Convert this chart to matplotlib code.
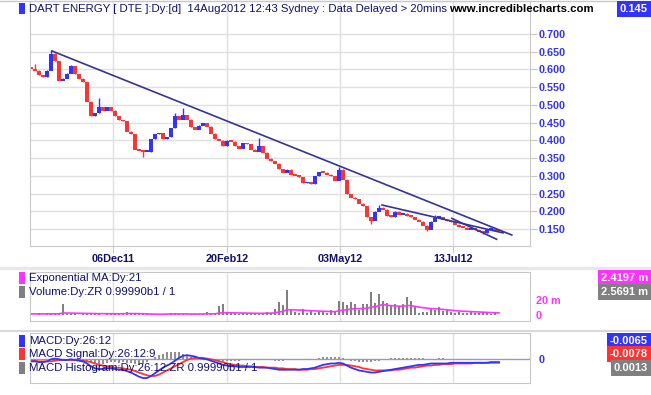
import numpy as np
import matplotlib
matplotlib.use("Agg")
import matplotlib.pyplot as plt
from matplotlib.patches import Rectangle
from matplotlib.lines import Line2D
from matplotlib.ticker import FormatStrFormatter

plt.rcParams['font.family'] = ['Liberation Sans', 'DejaVu Sans']

# daily closes (DTE), oldest first
closes = [0.603, 0.598, 0.585, 0.580, 0.598, 0.645, 0.625, 0.570, 0.575, 0.590,
          0.610, 0.588, 0.575, 0.565, 0.510, 0.470, 0.478, 0.495, 0.485, 0.495,
          0.485, 0.470, 0.458, 0.455, 0.425, 0.418, 0.375, 0.372, 0.368, 0.368,
          0.405, 0.418, 0.422, 0.405, 0.410, 0.435, 0.470, 0.460, 0.472, 0.460,
          0.438, 0.432, 0.442, 0.450, 0.440, 0.420, 0.405, 0.400, 0.385, 0.400,
          0.398, 0.385, 0.378, 0.393, 0.390, 0.375, 0.370, 0.385, 0.366, 0.350,
          0.342, 0.335, 0.320, 0.310, 0.318, 0.305, 0.302, 0.298, 0.280, 0.283,
          0.278, 0.300, 0.312, 0.310, 0.305, 0.300, 0.288, 0.318, 0.290, 0.250,
          0.240, 0.235, 0.222, 0.215, 0.185, 0.175, 0.200, 0.212, 0.205, 0.188,
          0.185, 0.200, 0.192, 0.195, 0.188, 0.185, 0.178, 0.172, 0.160, 0.150,
          0.172, 0.183, 0.185, 0.178, 0.173, 0.170, 0.163, 0.156, 0.155, 0.150,
          0.153, 0.148, 0.143, 0.140, 0.148, 0.150, 0.147, 0.145]
first_open = 0.608
wick_hi = {1: 0.615, 5: 0.655, 10: 0.613, 17: 0.519, 36: 0.478, 38: 0.490,
           57: 0.406, 77: 0.326, 87: 0.218, 101: 0.190}
wick_lo = {28: 0.353, 85: 0.165, 99: 0.145, 113: 0.135}

# volume in millions and its 21-day EMA
volume = [1.0, 0.5, 0.8, 0.6, 1.2, 2.5, 1.5, 1.0,
          14.5,
          1.2, 0.8, 1.0, 0.6, 0.9, 1.5, 0.7, 1.1, 0.8, 0.6, 1.3, 0.9, 0.7, 1.0, 0.8,
          3.6, 1.5, 2.2, 1.0, 0.8, 1.2, 1.0, 0.7, 1.0, 1.8, 1.2, 3.0, 2.0, 1.0, 1.8,
          1.0, 0.8, 1.5, 1.0, 1.2, 4.4, 1.5, 2.0,
          12.0, 14.7, 2.5, 2.0, 2.3, 1.8, 2.0, 2.5, 1.5, 2.5, 2.0, 1.8, 4.4, 2.5,
          7.5, 17.0, 13.0, 33.0, 6.7, 4.0, 3.0, 7.5, 3.0, 5.0, 2.5, 3.5, 4.0, 3.0, 6.0, 3.5,
          19.0, 17.0, 13.0, 17.0, 14.5, 6.0, 14.5, 15.0, 31.0, 16.0, 28.0, 18.0, 16.0,
          13.0, 14.5, 12.0, 14.0, 23.6, 18.0, 12.0,
          3.0, 4.0, 3.5, 9.0, 7.0, 10.0, 5.0, 6.0, 4.0, 3.0, 4.5, 2.5, 3.0, 3.5, 2.0,
          2.5, 3.0, 2.0, 1.5, 2.5, 0.5]
vol_ema = [1.5, 1.5, 1.5, 1.5, 1.5, 1.6, 1.6, 1.6, 2.7, 2.6, 2.5, 2.4, 2.3, 2.2, 2.1, 2.0, 1.9, 1.8,
           1.8, 1.7, 1.7, 1.6, 1.6, 1.7, 1.9, 1.9, 1.9, 1.8, 1.7,
           1.5, 1.3, 1.1, 1.0, 1.0, 1.2, 1.4, 1.5, 1.4,
           1.4, 1.4, 1.3, 1.3, 1.3, 1.3, 1.6, 1.6, 1.6,
           2.5, 3.2,
           3.0, 2.9, 2.8, 2.7, 2.6, 2.5, 2.4, 2.3, 2.2, 2.2,
           2.4, 2.5, 2.8, 4.0, 4.7, 7.0, 7.0,
           6.8, 6.5, 6.4, 6.0, 5.8, 5.5, 5.2, 5.0, 4.8, 4.6, 4.4,
           5.5, 6.5, 7.0, 7.8, 8.5, 8.4, 8.8, 9.0,
           10.5, 11.0, 12.5, 14.0, 13.0, 12.5, 12.2, 11.8, 11.5,
           12.5, 12.5, 11.5, 10.5, 9.8, 9.0,
           8.6, 8.3, 8.0, 7.4, 6.9, 6.3, 5.8, 5.4, 5.0, 4.8, 4.5, 4.2,
           4.0, 3.7, 3.5, 3.2, 3.0, 2.7]

# MACD 26:12, signal 9, histogram
macd = [-0.003, -0.003, -0.004, -0.004, -0.003, 0.000, 0.001, 0.000, -0.001, -0.001, 0.000, -0.001, -0.002, -0.003,
        -0.006, -0.010, -0.013, -0.014, -0.014, -0.013, -0.013, -0.014, -0.015, -0.015, -0.017, -0.019,
        -0.022, -0.025, -0.027, -0.027, -0.024,
        -0.020, -0.016, -0.012, -0.009, -0.006, -0.002,
        0.002, 0.005, 0.006, 0.005,
        0.004, 0.002, 0.001, 0.000, -0.002, -0.004, -0.006,
        -0.008, -0.009, -0.010, -0.010, -0.011, -0.011, -0.011, -0.011, -0.011, -0.012, -0.012, -0.012, -0.013,
        -0.014, -0.015, -0.015, -0.015, -0.015, -0.015, -0.015, -0.014, -0.014, -0.013, -0.012, -0.010,
        -0.008, -0.007, -0.006, -0.006, -0.005, -0.006,
        -0.009, -0.012, -0.014, -0.016, -0.017, -0.018, -0.019,
        -0.019, -0.018, -0.017, -0.016, -0.015, -0.014, -0.013, -0.012, -0.011, -0.010, -0.009, -0.008,
        -0.008, -0.007, -0.006, -0.006,
        -0.006, -0.006, -0.006, -0.005, -0.005, -0.005, -0.005, -0.005, -0.005, -0.005, -0.005, -0.005,
        -0.005, -0.004, -0.004, -0.004]
signal = [-0.002, -0.002, -0.003, -0.003, -0.003, -0.003, -0.002, -0.001, -0.001, -0.001, -0.001, -0.001, -0.001, -0.002,
          -0.003, -0.004, -0.006, -0.008, -0.009, -0.010, -0.011, -0.012, -0.012, -0.013, -0.014, -0.015,
          -0.017, -0.019, -0.021, -0.023, -0.024,
          -0.024, -0.022, -0.019, -0.016, -0.013, -0.010,
          -0.007, -0.004, -0.001, 0.001,
          0.002, 0.002, 0.002, 0.001, 0.000, -0.001, -0.003,
          -0.004, -0.006, -0.007, -0.008, -0.009, -0.009, -0.010, -0.010, -0.011, -0.011, -0.011, -0.012, -0.012,
          -0.012, -0.013, -0.013, -0.014, -0.014, -0.014, -0.015, -0.015, -0.015, -0.014, -0.014, -0.013,
          -0.012, -0.011, -0.010, -0.009, -0.008, -0.008,
          -0.008, -0.009, -0.010, -0.011, -0.013, -0.014, -0.015,
          -0.016, -0.016, -0.016, -0.016, -0.016, -0.015, -0.015, -0.014, -0.013, -0.012, -0.012, -0.011,
          -0.010, -0.009, -0.009, -0.008,
          -0.008, -0.007, -0.007, -0.007, -0.006, -0.006, -0.006, -0.006, -0.006, -0.005, -0.005, -0.005,
          -0.005, -0.005, -0.005, -0.005]
hist = [0, 0, 0, 0, 0, 0.001, 0.002, 0.001, 0, 0, 0.001, 0, 0, 0,
        -0.002, -0.004, -0.006, -0.007, -0.007, -0.005, -0.004, -0.004, -0.005, -0.004, -0.005, -0.006,
        -0.007, -0.008, -0.007, -0.004, 0.000,
        0.003, 0.006, 0.008, 0.010, 0.011, 0.011, 0.010, 0.008, 0.006, 0.003,
        0.002, 0.001, 0, 0, -0.001, -0.002, -0.002,
        -0.003, -0.003, -0.002, -0.002, -0.002, -0.001, -0.001, -0.001, -0.001, 0, 0, 0, -0.001,
        -0.002, -0.002, -0.002, -0.001, -0.001, -0.001, 0, 0, 0, 0, 0.001, 0.002,
        0.003, 0.004, 0.004, 0.003, 0.003, 0.002,
        0, -0.002, -0.003, -0.004, -0.004, -0.004, -0.004,
        -0.003, -0.002, 0, 0.001, 0.002, 0.002, 0.002, 0.002, 0.002, 0.002, 0.002, 0.002, 0.002, 0.001, 0.001, 0.001,
        0.002, 0.002, 0.001, 0.001, 0, 0, 0, 0, 0, 0, 0, 0, 0, 0, 0, 0]

# trend lines drawn on the chart (day index, price)
trend_x0 = [5.25, 87.75, 105.2]
trend_y0 = [0.652, 0.2176, 0.180]
trend_x1 = [120.2, 118.0, 116.4]
trend_y1 = [0.133, 0.139, 0.121]

tick_days = [20.5, 49.0, 77.25, 105.5]
tick_labels = ['06Dec11', '20Feb12', '03May12', '13Jul12']
price_ticks = [0.15, 0.20, 0.25, 0.30, 0.35, 0.40, 0.45, 0.50, 0.55, 0.60, 0.65, 0.70]

BLUE = '#3333ff'
RED = '#ff3333'
NAVY = '#10106e'
MAG = '#ff33ff'
GRAY = '#808080'
GRID = '#e0e0e0'
SPINE = '#c8c8c8'

W, H = 651, 395
fig = plt.figure(figsize=(W / 100, H / 100), dpi=100)


def rect(x0, y0, x1, y1):
    return [x0 / W, 1 - y1 / H, (x1 - x0) / W, (y1 - y0) / H]


def style(a):
    for s in a.spines.values():
        s.set_color(SPINE)
    a.set_xlim(-0.25, 124.75)
    a.set_xticks(tick_days)
    a.grid(True, axis='x', color=GRID, lw=1)
    a.set_axisbelow(True)
    a.yaxis.tick_right()


ax = fig.add_axes(rect(30, 1, 530, 246))
axv = fig.add_axes(rect(30, 272, 530, 321))
axm = fig.add_axes(rect(30, 333, 530, 383))
for a in (ax, axv, axm):
    style(a)

# ---- price panel
n = len(closes)
x = np.arange(n)
c = np.array(closes)
o = np.r_[first_open, c[:-1]]
hi = np.maximum(o, c)
lo = np.minimum(o, c)
for k, v in wick_hi.items():
    hi[k] = v
for k, v in wick_lo.items():
    lo[k] = v
cols = [BLUE if cc >= oo else RED for oo, cc in zip(o, c)]
ax.vlines(x, lo, hi, colors=cols, lw=1)
ax.bar(x, np.maximum(np.abs(c - o), 0.005), bottom=np.minimum(o, c) - 0.0015,
       width=0.9, color=cols, linewidth=0)
for xa, ya, xb, yb in zip(trend_x0, trend_y0, trend_x1, trend_y1):
    ax.plot([xa, xb], [ya, yb], color='#333399', lw=1.2)

ax.set_ylim(0.102, 0.793)
ax.set_yticks(price_ticks)
ax.yaxis.set_major_formatter(FormatStrFormatter('%.3f'))
ax.grid(True, axis='y', color=GRID, lw=1)
ax.tick_params(axis='y', length=5, color=SPINE, labelcolor=BLUE, labelsize=7.8, pad=1)
ax.tick_params(axis='x', length=5, color=SPINE, labelcolor=NAVY, labelsize=7.8, pad=1)
ax.set_xticklabels(tick_labels)
for t in ax.get_xticklabels() + ax.get_yticklabels():
    t.set_fontweight('bold')

# ---- volume panel
axv.bar(x, volume, width=0.3, color=GRAY, linewidth=0)
axv.plot(x, vol_ema, color=MAG, lw=1.2)
axv.set_ylim(-8, 57.3)
axv.set_yticks([0, 20])
axv.set_yticklabels(['0', '20 m'])
axv.tick_params(axis='y', length=0, labelcolor=MAG, labelsize=7.8, pad=4)
axv.tick_params(axis='x', length=0, labelbottom=False)
for t in axv.get_yticklabels():
    t.set_fontweight('bold')

# ---- MACD panel
axm.axhline(0, color='#9a9ab8', lw=1)
axm.bar(x, hist, width=0.3, color='#909090', linewidth=0)
axm.plot(x, signal, color=RED, lw=1.3)
axm.plot(x, macd, color=BLUE, lw=1.3)
axm.set_ylim(-0.0341, 0.0379)
axm.set_yticks([0])
axm.set_yticklabels(['0'])
axm.tick_params(axis='y', length=0, labelcolor=BLUE, labelsize=7.8, pad=6)
axm.tick_params(axis='x', length=0, labelbottom=False)
for t in axm.get_yticklabels():
    t.set_fontweight('bold')


# ---- text, markers, value boxes
def ftext(px, py, s, **kw):
    fig.text(px / W, 1 - py / H, s, va='center', **kw)


def marker(px, py0, py1, color):
    fig.add_artist(Rectangle((px / W, 1 - py1 / H), 6 / W, (py1 - py0) / H,
                             transform=fig.transFigure, color=color, lw=0))


def valbox(py, s, color):
    ftext(648, py, s, ha='right', color='white', fontsize=8, fontweight='bold',
          bbox=dict(boxstyle='square,pad=0.25', fc=color, ec='none'))


fig.add_artist(Line2D([0, 1], [1 - 1 / H, 1 - 1 / H], transform=fig.transFigure, color=SPINE, lw=1))
fig.add_artist(Line2D([0, 1], [1 - 268 / H, 1 - 268 / H], transform=fig.transFigure, color='#e8e8e8', lw=2.5))
fig.add_artist(Line2D([0, 1], [1 - 331 / H, 1 - 331 / H], transform=fig.transFigure, color='#d8d8d8', lw=1.5))

marker(19, 3, 14, BLUE)
ftext(29, 8.5, 'DART ENERGY [ DTE ]:Dy:[d]  14Aug2012 12:43 Sydney : Data Delayed > 20mins',
      color=NAVY, fontsize=8.2)
ftext(449, 8.5, 'www.incrediblecharts.com', color='black', fontsize=8.2, fontweight='bold')
valbox(9, '0.145', BLUE)

marker(19, 272, 284, MAG)
ftext(29, 278, 'Exponential MA:Dy:21', color=NAVY, fontsize=8.2)
marker(19, 286, 298, GRAY)
ftext(29, 292, 'Volume:Dy:ZR 0.99990b1 / 1', color=NAVY, fontsize=8.2)
valbox(278, '2.4197 m', MAG)
valbox(292, '2.5691 m', GRAY)

marker(19, 335, 347, BLUE)
ftext(29, 341, 'MACD:Dy:26:12', color=NAVY, fontsize=8.2)
marker(19, 348, 360, RED)
ftext(29, 354, 'MACD Signal:Dy:26:12:9', color=NAVY, fontsize=8.2)
marker(19, 362, 374, GRAY)
ftext(29, 368, 'MACD Histogram:Dy:26:12:ZR 0.99990b1 / 1', color=NAVY, fontsize=8.2)
valbox(341, '-0.0065', BLUE)
valbox(354, '-0.0078', RED)
valbox(368, '0.0013', GRAY)

fig.savefig('out.png', dpi=100)
